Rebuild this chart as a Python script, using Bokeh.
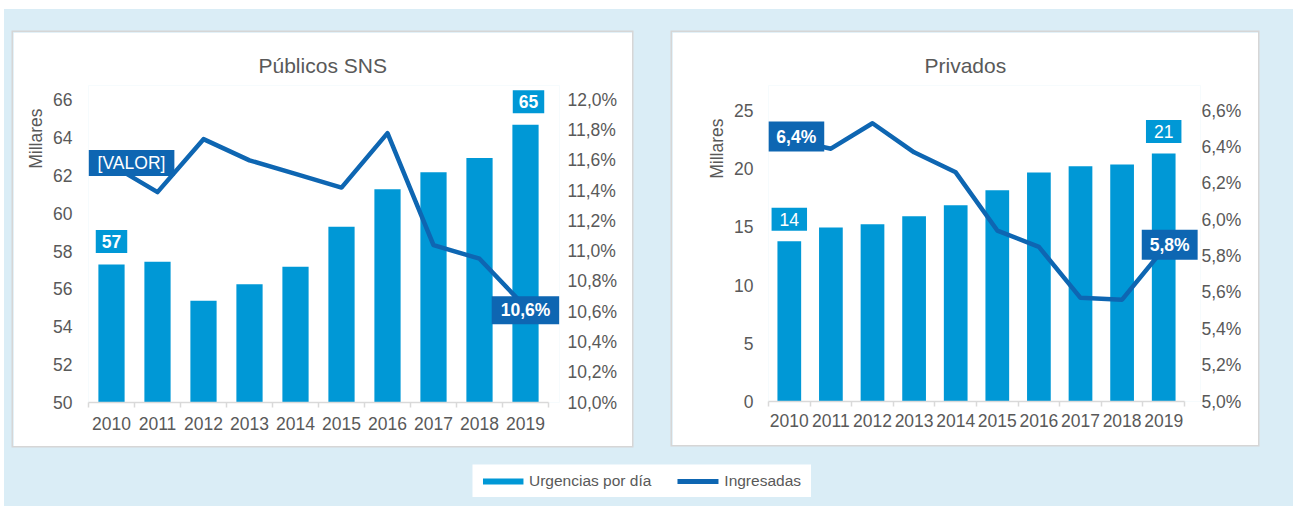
from bokeh.plotting import figure
from bokeh.models import (Range1d, LinearAxis, FixedTicker, CustomJSTickFormatter,
                          Label, Title, Legend, LegendItem)
from bokeh.layouts import row, column
from bokeh.embed import file_html
from bokeh.resources import INLINE

# ---------------- data ----------------
years = ["2010", "2011", "2012", "2013", "2014", "2015", "2016", "2017", "2018", "2019"]

pub_urgencias = [57.29, 57.44, 55.38, 56.25, 57.17, 59.29, 61.27, 62.17, 62.93, 64.68]
pub_ingresadas = [11.57, 11.39, 11.74, 11.60, 11.51, 11.42, 11.78, 11.04, 10.95, 10.63]

priv_urgencias = [13.77, 14.95, 15.23, 15.92, 16.86, 18.15, 19.67, 20.21, 20.36, 21.31]
priv_ingresadas = [6.44, 6.39, 6.53, 6.37, 6.26, 5.94, 5.85, 5.57, 5.56, 5.84]

pub_left_ticks = [50, 52, 54, 56, 58, 60, 62, 64, 66]
pub_right_ticks = [10.0, 10.2, 10.4, 10.6, 10.8, 11.0, 11.2, 11.4, 11.6, 11.8, 12.0]
priv_left_ticks = [0, 5, 10, 15, 20, 25]
priv_right_ticks = [5.0, 5.2, 5.4, 5.6, 5.8, 6.0, 6.2, 6.4, 6.6]

titles = ["Públicos SNS", "Privados"]
axis_title = "Millares"
legend_labels = ["Urgencias por día", "Ingresadas"]
placeholder_label = "[VALOR]"

# ---------------- style ----------------
BG = "#DAEDF6"
BAR = "#0098D6"
LINE = "#0E66B2"
GRAY = "#595959"
AXIS = "#D9D9D9"
FONT = "Liberation Sans"
TICK_SIZE = "17.5px"

n = len(years)
xpos = [i + 0.5 for i in range(n)]
xbounds = [i for i in range(n + 1)]

pct_fmt = CustomJSTickFormatter(code="return tick.toFixed(1).replace('.', ',') + '%';")


def pct_text(v):
    return ("%.1f" % v).replace(".", ",") + "%"


def make_panel(title, urg, ing, lticks, rticks, g):
    # g: geometry in pixels
    fw, fh = g["frame_w"], g["frame_h"]
    x_end = fw / g["unit_px"]
    y_lo, y_hi = lticks[0], lticks[-1]
    r_lo, r_hi = rticks[0], rticks[-1]
    y_end = y_lo + (y_hi - y_lo) * fh / g["axis_px"]
    r_end = r_lo + (r_hi - r_lo) * fh / g["axis_px"]

    W = g["bl"] + fw + g["br"]
    H = g["bt"] + fh + g["bb"]
    p = figure(width=W, height=H, x_range=Range1d(0, x_end), y_range=Range1d(y_lo, y_end),
               output_backend="svg", toolbar_location=None,
               x_axis_location=None, y_axis_location="left",
               min_border_left=g["bl"], min_border_right=g["br"],
               min_border_top=g["bt"], min_border_bottom=g["bb"],
               background_fill_color="white", border_fill_color="white",
               outline_line_color=None)
    p.styles = {"box-shadow": "0 0 0 1.5px #D6D6D6"}
    p.extra_y_ranges = {"pct": Range1d(r_lo, r_end)}

    p.title.text = title
    p.title.align = "left"
    p.title.offset = g["title_x"]
    p.title.standoff = 17
    p.title.text_font = FONT
    p.title.text_font_size = "21px"
    p.title.text_font_style = "normal"
    p.title.text_color = GRAY

    p.grid.grid_line_color = None

    # left axis
    la = p.yaxis[0]
    la.ticker = FixedTicker(ticks=lticks)
    la.axis_line_color = None
    la.major_tick_line_color = None
    la.minor_tick_line_color = None
    la.major_tick_out = 0
    la.minor_tick_out = 0
    la.axis_label_standoff = 0
    la.major_label_standoff = g["lstand"]
    la.major_label_text_font = FONT
    la.major_label_text_font_size = TICK_SIZE
    la.major_label_text_color = GRAY

    # right axis
    ra = LinearAxis(y_range_name="pct", ticker=FixedTicker(ticks=rticks), formatter=pct_fmt,
                    axis_line_color=None, major_tick_line_color=None, minor_tick_line_color=None,
                    major_tick_out=0, minor_tick_out=0,
                    major_label_standoff=g["rstand"], major_label_text_font=FONT,
                    major_label_text_font_size=TICK_SIZE, major_label_text_color=GRAY)
    p.add_layout(ra, "right")

    # category axis, tick marks between categories
    xa = LinearAxis(ticker=FixedTicker(ticks=xpos, minor_ticks=xbounds),
                    bounds=(xbounds[0], xbounds[-1]),
                    formatter=CustomJSTickFormatter(args=dict(labels=years),
                                                    code="return labels[Math.floor(tick)] || '';"),
                    axis_line_color=AXIS, axis_line_width=1.5,
                    major_tick_line_color=None,
                    minor_tick_line_color=AXIS, minor_tick_line_width=1.5,
                    minor_tick_in=0, minor_tick_out=5,
                    major_label_standoff=g["xstand"], major_label_text_font=FONT,
                    major_label_text_font_size=TICK_SIZE, major_label_text_color=GRAY)
    p.add_layout(xa, "below")

    # Millares
    p.add_layout(Title(text=axis_title, align="right", text_font=FONT, text_font_size="17.5px",
                       text_font_style="normal", text_color=GRAY, standoff=10,
                       offset=g["mill_off"]), "left")

    p.vbar(x=xpos, top=urg, bottom=y_lo, width=0.57, fill_color=BAR, line_color=None)
    p.line(x=xpos, y=ing, y_range_name="pct", line_color=LINE, line_width=4.5, line_join="round")
    return p


g1 = dict(frame_w=471, frame_h=317, unit_px=46, axis_px=302.7, bl=75, br=73, bt=53, bb=44,
          lstand=16, rstand=8, xstand=8, title_x=170, mill_off=23)
g2 = dict(frame_w=432, frame_h=316, unit_px=41.6, axis_px=291, bl=96, br=58, bt=53, bb=44,
          lstand=15, rstand=1, xstand=6, title_x=156, mill_off=33)

p1 = make_panel(titles[0], pub_urgencias, pub_ingresadas, pub_left_ticks, pub_right_ticks, g1)
p2 = make_panel(titles[1], priv_urgencias, priv_ingresadas, priv_left_ticks, priv_right_ticks, g2)


def add_label(p, x, y, text, fill, bold, pad_lr, pad_tb, x_off=0, y_off=0, rng="default"):
    p.add_layout(Label(x=x, y=y, text=text, x_offset=x_off, y_offset=y_off,
                       y_range_name=rng, text_align="center", text_baseline="middle",
                       text_font=FONT, text_font_size=TICK_SIZE, text_color="white",
                       text_font_style="bold" if bold else "normal",
                       background_fill_color=fill, border_line_color=None,
                       padding=dict(left=pad_lr, right=pad_lr, top=pad_tb, bottom=pad_tb)))


# bar value labels (first and last)
add_label(p1, xpos[0], pub_urgencias[0], str(round(pub_urgencias[0])), BAR, True, 6, 5, y_off=23)
add_label(p1, xpos[-1], pub_urgencias[-1], str(round(pub_urgencias[-1])), BAR, True, 6, 5,
          x_off=3, y_off=23)
add_label(p2, xpos[0], priv_urgencias[0], str(round(priv_urgencias[0])), BAR, False, 8, 5, y_off=22)
add_label(p2, xpos[-1], priv_urgencias[-1], str(round(priv_urgencias[-1])), BAR, False, 8, 5, y_off=22)

# line value labels
add_label(p1, xpos[0], pub_ingresadas[0], placeholder_label, LINE, False, 9, 3, x_off=20, y_off=2, rng="pct")
add_label(p1, xpos[-1], pub_ingresadas[-1], pct_text(pub_ingresadas[-1]), LINE, True, 9, 4, y_off=-3, rng="pct")
add_label(p2, xpos[0], priv_ingresadas[0], pct_text(priv_ingresadas[0]), LINE, True, 8, 5, x_off=7, y_off=3, rng="pct")
add_label(p2, xpos[-1], priv_ingresadas[-1], pct_text(priv_ingresadas[-1]), LINE, True, 8, 5, x_off=6, y_off=4, rng="pct")

# legend figure
nan = float("nan")
lf = figure(width=339, height=33, output_backend="svg", toolbar_location=None,
            x_axis_location=None, y_axis_location=None, min_border=0,
            x_range=Range1d(0, 1), y_range=Range1d(0, 1),
            background_fill_color="white", border_fill_color="white", outline_line_color=None)
lf.grid.grid_line_color = None
r1 = lf.line(x=[nan], y=[nan], line_color=BAR, line_width=6, line_cap="butt")
r2 = lf.line(x=[nan], y=[nan], line_color=LINE, line_width=5, line_cap="round")
legend = Legend(items=[LegendItem(label=legend_labels[0], renderers=[r1]),
                       LegendItem(label=legend_labels[1], renderers=[r2])],
                orientation="horizontal", location="center",
                border_line_color=None, background_fill_alpha=0,
                glyph_width=41, glyph_height=20, label_standoff=6, spacing=26,
                padding=0, margin=0, label_text_font=FONT, label_text_font_size="15.5px",
                label_text_color=GRAY)
lf.add_layout(legend, "center")

p1.margin = (32, 0, 0, 13)
p2.margin = (32, 0, 0, 40)
lf.margin = (18, 0, 0, 472)

bg_css = ("linear-gradient(#ffffff, #ffffff) 0 0 / 100% 9px no-repeat, "
          "linear-gradient(#ffffff, #ffffff) 0 0 / 4px 100% no-repeat, " + BG)
root = column(row(p1, p2), lf, width=1293, height=506, styles={"background": bg_css})

open("out.html", "w").write(file_html(root, INLINE))
